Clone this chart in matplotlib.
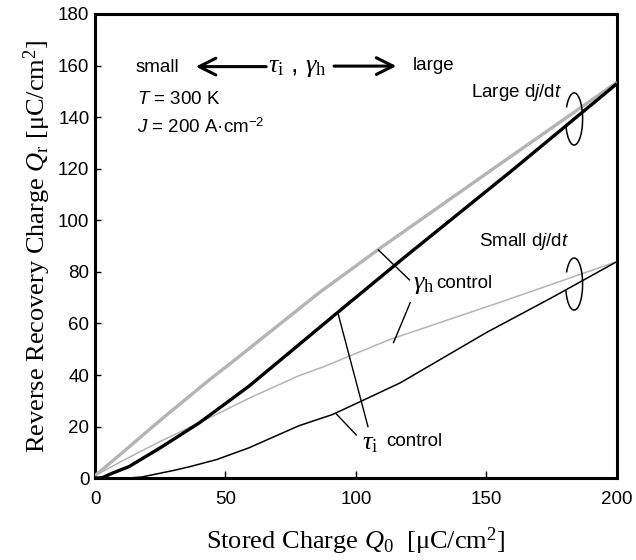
import matplotlib
matplotlib.use("Agg")
import matplotlib.pyplot as plt
from matplotlib.patches import Arc

plt.rcParams['font.family'] = ['Liberation Sans', 'DejaVu Sans']
plt.rcParams['mathtext.fontset'] = 'custom'
plt.rcParams['mathtext.rm'] = 'Liberation Serif'
plt.rcParams['mathtext.it'] = 'Liberation Serif:italic'
plt.rcParams['mathtext.sf'] = 'Liberation Sans'
plt.rcParams['mathtext.tt'] = 'Liberation Sans:italic'

# Large dj/dt, gamma_h control (thick gray)
q0_large_gh = [0, 10, 25, 44, 50, 86, 109, 154, 200]
qr_large_gh = [1, 9.5, 22.5, 38.3, 43, 72, 89, 121, 153.5]

# Large dj/dt, tau_i control (thick black)
q0_large_ti = [0, 3, 6.5, 13, 25, 40, 59, 86, 93, 119, 160, 200]
qr_large_ti = [0, 0.3, 1.9, 4.5, 11.8, 21.5, 35.7, 58.4, 64.3, 86, 119.5, 153]

# Small dj/dt, gamma_h control (thin gray)
q0_small_gh = [0, 10, 25, 40, 59, 78, 87, 113, 156, 200]
qr_small_gh = [1, 6.5, 14.3, 21.5, 31, 39.7, 43, 53.8, 68.5, 84]

# Small dj/dt, tau_i control (thin black)
q0_small_ti = [0, 12, 18, 30, 36, 46.5, 59, 78, 91, 101, 117, 150, 175, 200]
qr_small_ti = [0, 0, 0.5, 3.0, 4.4, 7.2, 11.8, 20.3, 24.7, 29.4, 37, 56.5, 70, 84]

x_ticks = [0, 50, 100, 150, 200]
y_ticks = [0, 20, 40, 60, 80, 100, 120, 140, 160, 180]

fig = plt.figure(figsize=(6.36, 5.6), dpi=100)
ax = fig.add_axes([0.1494, 0.146, 0.8206, 0.829])

gray = '#b4b4b4'
ax.plot(q0_large_gh, qr_large_gh, color=gray, lw=2.4, solid_capstyle='butt', zorder=3)
ax.plot(q0_large_ti, qr_large_ti, color='black', lw=2.4, solid_capstyle='butt', zorder=4)
ax.plot(q0_small_gh, qr_small_gh, color=gray, lw=1.1, zorder=3)
ax.plot(q0_small_ti, qr_small_ti, color='black', lw=1.1, zorder=4)

ax.set_xlim(0, 200)
ax.set_ylim(0, 180)
ax.set_xticks(x_ticks)
ax.set_yticks(y_ticks)
ax.tick_params(axis='x', direction='in', length=5, width=1, pad=9, labelsize=13.5)
ax.tick_params(axis='y', direction='in', length=4.5, width=1, pad=4, labelsize=13.5)
for s in ax.spines.values():
    s.set_linewidth(2.2)

ax.set_xlabel(r'Stored Charge $Q_0$  [μC/cm$^2$]', family='Liberation Serif',
              fontsize=19, labelpad=13)
ax.set_ylabel(r'Reverse Recovery Charge $Q_\mathrm{r}$ [μC/cm$^2$]',
              family='Liberation Serif', fontsize=19, labelpad=4)

fs = 13.5
gs = 19
arrow_style = dict(arrowstyle='->,head_length=1.2,head_width=0.6',
                   lw=2.2, color='black', shrinkA=0, shrinkB=0)
# Parameter direction header
ax.text(15.7, 159.4, 'small', fontsize=fs, ha='left', va='center')
ax.annotate('', xy=(38.6, 159.6), xytext=(65.6, 159.6), arrowprops=arrow_style)
ax.text(66.2, 159.4, r'$\tau_\mathrm{i}$ , $\gamma_\mathrm{h}$', fontsize=gs,
        ha='left', va='center')
ax.annotate('', xy=(115.5, 159.8), xytext=(91.6, 159.8), arrowprops=arrow_style)
ax.text(121.7, 160.2, 'large', fontsize=fs, ha='left', va='center')

# Conditions
ax.text(16, 146.7, r'$\mathtt{T}$ = 300 K', fontsize=fs, ha='left', va='center')
ax.text(16, 136, r'$\mathtt{J}$ = 200 A·cm$^{\mathsf{-2}}$', fontsize=fs,
        ha='left', va='center')

# dj/dt group labels with loops
ax.text(179, 149.4, r'Large d$\mathtt{j}$/d$\mathtt{t}$', fontsize=fs,
        ha='right', va='center')
ax.text(181.7, 91.6, r'Small d$\mathtt{j}$/d$\mathtt{t}$', fontsize=fs,
        ha='right', va='center')
for cy in (139.3, 75.3):
    ax.add_patch(Arc((183.6, cy), 6.5, 20.2, theta1=218, theta2=483,
                     lw=1.1, color='black', zorder=5))

# Control labels with leader lines
ax.text(121.7, 75.4, r'$\gamma_\mathrm{h}$', fontsize=gs, ha='left', va='center')
ax.text(130.6, 75.7, 'control', fontsize=fs, ha='left', va='center')
ax.plot([108.6, 120.5], [88.5, 76.9], color='black', lw=1.0, zorder=5)
ax.plot([120.8, 114.4], [68.1, 52.6], color='black', lw=1.0, zorder=5)

ax.text(102.5, 13.8, r'$\tau_\mathrm{i}$', fontsize=gs, ha='left', va='center')
ax.text(111.5, 14.1, 'control', fontsize=fs, ha='left', va='center')
ax.plot([93.1, 104.6], [64.0, 20.0], color='black', lw=1.0, zorder=5)
ax.plot([92.5, 100.1], [24.9, 16.8], color='black', lw=1.0, zorder=5)

fig.savefig('out.png', dpi=100)
